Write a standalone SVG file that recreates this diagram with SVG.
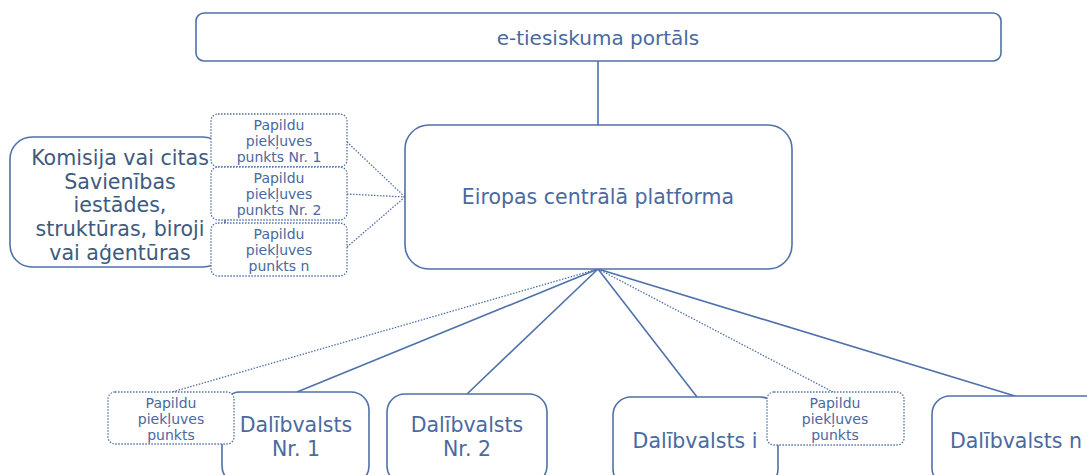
<svg xmlns="http://www.w3.org/2000/svg" width="1087" height="475" viewBox="0 0 1087 475">
<style>
.box{fill:#fff;stroke:#4f71aa;stroke-width:1.6}
.dot{fill:#fff;stroke:#4f71aa;stroke-width:1.3;stroke-dasharray:1.5 1.5}
.ln{stroke:#4f71aa;stroke-width:1.6;fill:none}
.dl{stroke:#4f71aa;stroke-width:1.3;stroke-dasharray:1.5 1.5;fill:none}
text{font-family:"DejaVu Sans",Verdana,sans-serif;fill:#4a69a0;text-anchor:middle}
.t1{font-size:20px}
.big{font-size:20.5px}
.left{font-size:20.6px;fill:#3d5a80}
.sm{font-size:14px}
</style>
<rect width="1087" height="475" fill="#fff"/>
<g id="connectors">
<line class="ln" x1="598" y1="61" x2="598" y2="125"/>
<line class="dl" x1="347" y1="142" x2="405" y2="197"/>
<line class="dl" x1="347" y1="194" x2="405" y2="197"/>
<line class="dl" x1="347" y1="247" x2="405" y2="197"/>
<line class="dl" x1="598" y1="269" x2="172" y2="392"/>
<line class="ln" x1="598" y1="269" x2="297" y2="392"/>
<line class="ln" x1="598" y1="269" x2="467" y2="394"/>
<line class="ln" x1="598" y1="269" x2="697" y2="397"/>
<line class="dl" x1="598" y1="269" x2="833" y2="392"/>
<line class="ln" x1="598" y1="269" x2="1015" y2="396"/>
</g>
<g id="portal">
<rect class="box" x="196" y="13" width="805" height="48" rx="8"/>
<text class="t1" x="598" y="45">e-tiesiskuma portāls</text>
</g>
<g id="platform">
<rect class="box" x="405" y="125" width="387" height="144" rx="24"/>
<text class="big" x="598" y="204">Eiropas centrālā platforma</text>
</g>
<g id="commission">
<rect class="box" x="10" y="137" width="215" height="130" rx="22"/>
<text class="left" x="120" y="165">Komisija vai citas</text>
<text class="left" x="120" y="189">Savienības</text>
<text class="left" x="120" y="212">iestādes,</text>
<text class="left" x="120" y="236">struktūras, biroji</text>
<text class="left" x="120" y="260">vai aģentūras</text>
</g>
<g id="ap1">
<rect class="dot" x="211" y="114" width="136" height="53" rx="7"/>
<text class="sm" x="279" y="130">Papildu</text>
<text class="sm" x="279" y="146">piekļuves</text>
<text class="sm" x="279" y="162">punkts Nr. 1</text>
</g>
<g id="ap2">
<rect class="dot" x="211" y="167" width="136" height="53" rx="7"/>
<text class="sm" x="279" y="183">Papildu</text>
<text class="sm" x="279" y="199">piekļuves</text>
<text class="sm" x="279" y="215">punkts Nr. 2</text>
</g>
<g id="apn">
<rect class="dot" x="211" y="223" width="136" height="53" rx="7"/>
<text class="sm" x="279" y="239">Papildu</text>
<text class="sm" x="279" y="255">piekļuves</text>
<text class="sm" x="279" y="271">punkts n</text>
</g>
<g id="ms1">
<rect class="box" x="222" y="392" width="147" height="92" rx="18"/>
<text class="big" x="296" y="432">Dalībvalsts</text>
<text class="big" x="296" y="456">Nr. 1</text>
</g>
<g id="ap-ms1">
<rect class="dot" x="108" y="392" width="126" height="52" rx="7"/>
<text class="sm" x="171" y="408">Papildu</text>
<text class="sm" x="171" y="424">piekļuves</text>
<text class="sm" x="171" y="440">punkts</text>
</g>
<g id="ms2">
<rect class="box" x="387" y="394" width="160" height="90" rx="18"/>
<text class="big" x="467" y="432">Dalībvalsts</text>
<text class="big" x="467" y="456">Nr. 2</text>
</g>
<g id="msi">
<rect class="box" x="613" y="397" width="165" height="90" rx="18"/>
<text class="big" x="695" y="448">Dalībvalsts i</text>
</g>
<g id="ap-msi">
<rect class="dot" x="767" y="392" width="137" height="53" rx="7"/>
<text class="sm" x="835" y="408">Papildu</text>
<text class="sm" x="835" y="424">piekļuves</text>
<text class="sm" x="835" y="440">punkts</text>
</g>
<g id="msn">
<rect class="box" x="932" y="396" width="180" height="90" rx="18"/>
<text class="big" x="1016" y="448">Dalībvalsts n</text>
</g>
</svg>
